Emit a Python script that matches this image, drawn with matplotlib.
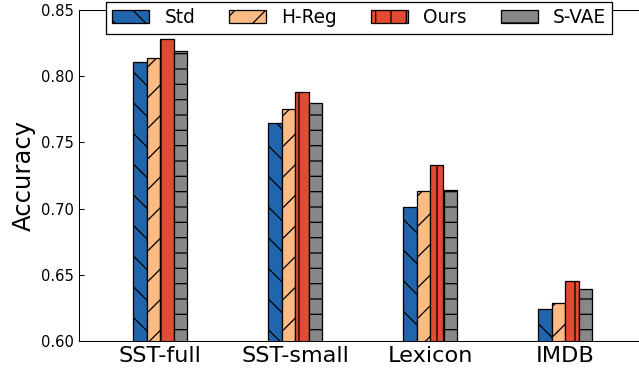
import matplotlib
matplotlib.use("Agg")
import matplotlib.pyplot as plt
import numpy as np

datasets = ["SST-full", "SST-small", "Lexicon", "IMDB"]
methods = ["Std", "H-Reg", "Ours", "S-VAE"]
std = [0.811, 0.765, 0.701, 0.624]
hreg = [0.814, 0.775, 0.713, 0.629]
ours = [0.828, 0.788, 0.733, 0.645]
svae = [0.819, 0.780, 0.714, 0.639]

colors = ["#2166ac", "#fdbb84", "#e34a33", "#888888"]
hatches = ["\\", "/", "|", "-"]

dpi = 92
fig = plt.figure(figsize=(639 / dpi, 371 / dpi), dpi=dpi)
ax = fig.add_axes([79 / 639, 30 / 371, 567 / 639, 331 / 371])

x = np.arange(len(datasets))
w = 0.1
for i, (vals, name) in enumerate(zip([std, hreg, ours, svae], methods)):
    ax.bar(x + (i - 1.5) * w, vals, w, color=colors[i], edgecolor="black",
           linewidth=1.0, hatch=hatches[i], label=name)

ax.set_xlim(-0.6, 3.6)
ax.set_ylim(0.60, 0.85)
ax.set_yticks(np.arange(0.60, 0.851, 0.05))
ax.set_yticklabels(["%.2f" % v for v in np.arange(0.60, 0.851, 0.05)], fontsize=11.5)
ax.set_xticks(x)
ax.set_xticklabels(datasets, fontsize=17.5)
ax.tick_params(axis="x", length=0, pad=4)
ax.tick_params(axis="y", direction="in", length=4, right=True, pad=4)
ax.set_ylabel("Accuracy", fontsize=19)

leg = ax.legend(loc="center", bbox_to_anchor=(0.494, 0.976), ncol=4,
                fontsize=14.5, fancybox=False, framealpha=1.0,
                edgecolor="black", handlelength=2.0, handletextpad=0.8,
                columnspacing=1.85, borderpad=0.35)
leg.get_frame().set_linewidth(1.0)

fig.savefig("out.png", dpi=dpi)
